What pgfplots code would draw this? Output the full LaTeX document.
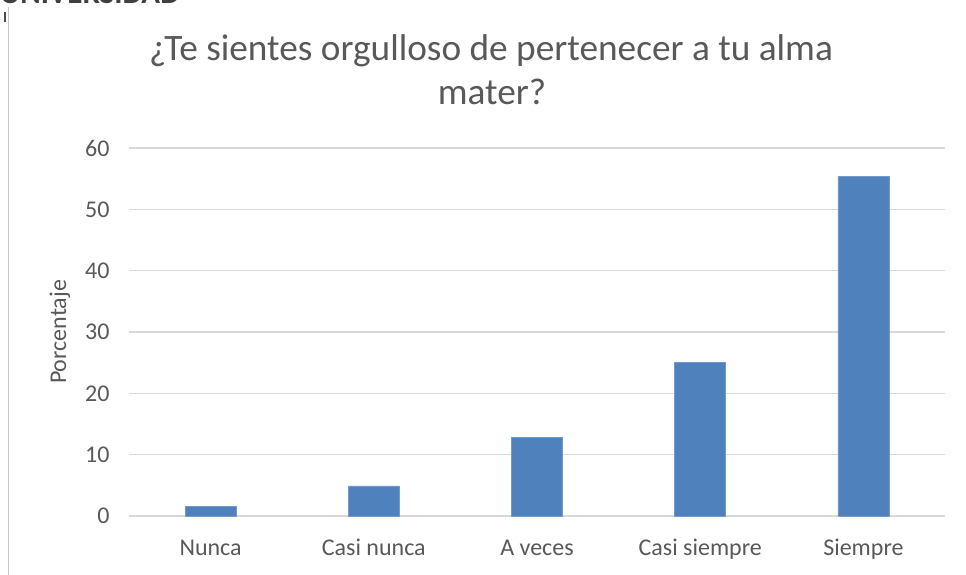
\documentclass[border=0pt]{standalone}
\usepackage{fontspec}
\setmainfont{Carlito}
\usepackage{pgfplots}
\pgfplotsset{compat=1.18}
\definecolor{barblue}{HTML}{4F81BD}
\definecolor{txtgray}{HTML}{595959}
\definecolor{gridgray}{HTML}{D9D9D9}
\begin{document}
\begin{tikzpicture}
\useasboundingbox (0pt,0pt) rectangle (966pt,575pt);
\fill[white] (0pt,0pt) rectangle (966pt,575pt);
% partial header text and frame line
\node[anchor=base west, inner sep=0pt, text=black!75, font=\fontsize{31}{34}\selectfont\bfseries] at (0pt,571pt) {UNIVERSIDAD};
\fill[black!70] (4pt,553pt) rectangle (6pt,563pt);
\draw[black!22, line width=1.5pt] (8.5pt,0pt) -- (8.5pt,568pt);
% title
\node[anchor=base, inner sep=0pt, text=txtgray, font=\fontsize{37.3}{41}\selectfont] at (491pt,514pt) {¿Te sientes orgulloso de pertenecer a tu alma};
\node[anchor=base, inner sep=0pt, text=txtgray, font=\fontsize{37.3}{41}\selectfont] at (492pt,470pt) {mater?};
\begin{axis}[
  at={(129pt,59pt)}, anchor=south west,
  scale only axis, width=816pt, height=368pt,
  xmin=-0.5, xmax=4.5, ymin=0, ymax=60,
  ytick={0,10,20,30,40,50,60},
  xtick=data,
  xticklabels={Nunca, Casi nunca, A veces, Casi siempre, Siempre},
  ymajorgrids, grid style={gridgray, line width=1.2pt},
  axis x line*=bottom, axis y line*=left,
  x axis line style={gridgray, line width=1.2pt, -},
  y axis line style={draw=none},
  major tick length=0pt,
  tick label style={text=txtgray, font=\fontsize{24}{28}\selectfont},
  /pgf/number format/assume math mode=true,
  xticklabel style={yshift=-19pt, text height=17pt, text depth=5pt},
  yticklabel style={xshift=-16pt},
  ylabel={Porcentaje},
  every axis y label/.style={at={(axis description cs:0,0.5)}, xshift=-69pt, rotate=90, anchor=center, text=txtgray, font=\fontsize{24}{28}\selectfont},
  ybar, bar width=51pt,
  clip=false,
]
\addplot[fill=barblue, draw=barblue!80!white, line width=0.8pt] coordinates {(0,1.5) (1,4.9) (2,12.8) (3,25.1) (4,55.4)};
\end{axis}
\end{tikzpicture}
\end{document}
